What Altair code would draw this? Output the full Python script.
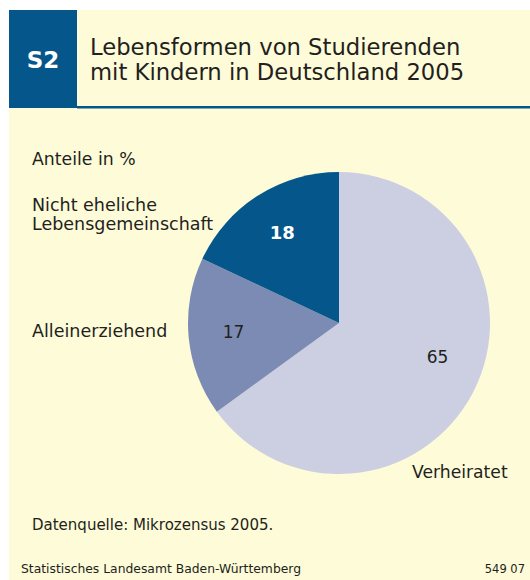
import altair as alt
import pandas as pd

# ---- data ----
categories = ["Verheiratet", "Alleinerziehend", "Nicht eheliche Lebensgemeinschaft"]
shares = [65, 17, 18]
order_idx = [0, 1, 2]
slice_colors = ["#cbcfe1", "#7c8bb3", "#05568a"]

badge = "S2"
title_lines = ["Lebensformen von Studierenden", "mit Kindern in Deutschland 2005"]
unit_note = "Anteile in %"
source_note = "Datenquelle: Mikrozensus 2005."
footer_left = "Statistisches Landesamt Baden-Württemberg"
footer_right = "549 07"

df = pd.DataFrame({"category": categories, "value": shares, "idx": order_idx})
one = pd.DataFrame({"k": [0]})

FONT = "DejaVu Sans"
INK = "#231f20"
BLUE = "#05568a"
CREAM = "#fefbd8"
CX, CY, R = 339, 323, 151


def rect(x1, x2, y1, y2, color):
    return alt.Chart(one).mark_rect(color=color).encode(
        x=alt.value(x1), x2=alt.value(x2), y=alt.value(y1), y2=alt.value(y2)
    )


def label(text, x, y, size, align="left", color=INK, weight="normal", line_height=None):
    kw = dict(text=text, font=FONT, fontSize=size, align=align, baseline="alphabetic",
              color=color, fontWeight=weight)
    if line_height is not None:
        kw["lineHeight"] = line_height
    return alt.Chart(one).mark_text(**kw).encode(x=alt.value(x), y=alt.value(y))


background = alt.layer(
    rect(9, 530, 10, 580, CREAM),
    rect(9, 77, 10, 108, BLUE),
    rect(77, 530, 106, 108.5, BLUE),
)

pie = alt.Chart(df).mark_arc(outerRadius=R).encode(
    theta=alt.Theta("value:Q", stack=True),
    order=alt.Order("idx:Q"),
    color=alt.Color("category:N", scale=alt.Scale(domain=categories, range=slice_colors), legend=None),
    x=alt.value(CX),
    y=alt.value(CY),
)

lab_base = (
    alt.Chart(df)
    .transform_window(cum="sum(value)", sort=[alt.SortField("idx")], frame=[None, 0])
    .transform_joinaggregate(total="sum(value)")
    .transform_calculate(mid="2*PI*(datum.cum - datum.value/2)/datum.total")
)


def pie_text(idx, color, weight, size, dx=0, dy=0):
    return lab_base.transform_filter(f"datum.idx == {idx}").mark_text(
        radius=106, font=FONT, fontSize=size, fontWeight=weight, color=color,
        align="center", baseline="middle", dx=dx, dy=dy,
    ).encode(
        theta=alt.Theta("mid:Q", scale=None),
        text=alt.Text("value:Q"),
        x=alt.value(CX),
        y=alt.value(CY),
    )


texts = alt.layer(
    label(badge, 43, 68, 23, align="center", color="white", weight="bold"),
    label(title_lines, 90, 55, 22.7, line_height=25),
    label(unit_note, 32, 165, 17.3),
    label(["Nicht eheliche", "Lebensgemeinschaft"], 32, 211, 17.5, line_height=19),
    label(categories[1], 32, 337, 17.5),
    label(categories[0], 412, 478, 17.2),
    label(source_note, 32, 530, 15),
    label(footer_left, 21, 573, 12.35),
    label(footer_right, 525, 573, 11.5, align="right"),
)

chart = alt.layer(
    background,
    pie,
    pie_text(0, INK, "normal", 17, dx=4, dy=-13),
    pie_text(1, INK, "normal", 17),
    pie_text(2, "white", "bold", 18),
    texts,
).properties(
    width=530, height=580, padding=0, autosize="none", background="white"
).configure_view(strokeWidth=0)

chart.save("out.html", embed_options={"renderer": "svg", "actions": False})
